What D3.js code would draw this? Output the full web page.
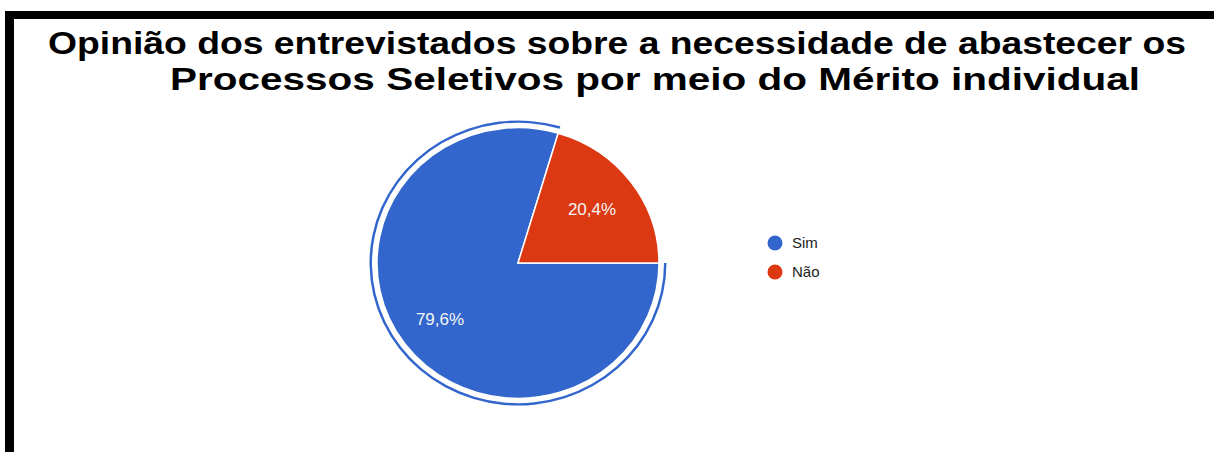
<!DOCTYPE html>
<html>
<head>
<meta charset="utf-8">
<script src="https://cdn.jsdelivr.net/npm/d3@7"></script>
<style>
  html, body { margin: 0; padding: 0; background: #fff; }
  svg { display: block; }
</style>
</head>
<body>
<svg id="display" width="1214" height="452"></svg>
<script>
'use strict';
//data
var TITLE_LINES = [
  'Opinião dos entrevistados sobre a necessidade de abastecer os',
  'Processos Seletivos por meio do Mérito individual'
];
var CATEGORIES = ['Sim', 'Não'];
var VALUES = [79.6, 20.4];
var LABELS = ['79,6%', '20,4%'];

//layout
var WIDTH = 1214;
var HEIGHT = 452;
var CENTER = { x: 518, y: 263 };
var RADIUS = 141;
var SQUASH = 0.96;
var COLORS = d3.scaleOrdinal().domain(CATEGORIES).range(['#3366cc', '#dc3912']);

var svg = d3.select('#display');

// frame bars
svg.append('rect')
  .attr('x', 5).attr('y', 11)
  .attr('width', WIDTH - 5).attr('height', 8)
  .attr('fill', '#000');
svg.append('rect')
  .attr('x', 5).attr('y', 11)
  .attr('width', 9).attr('height', HEIGHT - 11)
  .attr('fill', '#000');

// title, each line stretched to the span it has in the picture
var titleSpan = [[48, 1186], [170, 1140]];
svg.selectAll('text.title')
  .data(TITLE_LINES)
  .enter()
  .append('text')
  .attr('class', 'title')
  .attr('x', function(d, i) { return titleSpan[i][0]; })
  .attr('y', function(d, i) { return 54 + i * 35.5; })
  .attr('textLength', function(d, i) { return titleSpan[i][1] - titleSpan[i][0]; })
  .attr('lengthAdjust', 'spacingAndGlyphs')
  .attr('font-family', '"Liberation Sans", Arial, sans-serif')
  .attr('font-weight', 'bold')
  .attr('font-size', 32)
  .attr('fill', '#000')
  .text(function(d) { return d; });

// pie
var data = CATEGORIES.map(function(c, i) {
  return { name: c, value: VALUES[i], label: LABELS[i] };
});

var pie = d3.pie()
  .sort(null)
  .value(function(d) { return d.value; })
  .startAngle(Math.PI / 2)
  .endAngle(Math.PI / 2 + 2 * Math.PI);

var arcs = pie(data);
var arc = d3.arc().innerRadius(0).outerRadius(RADIUS);
var ring = d3.arc().innerRadius(RADIUS + 5).outerRadius(RADIUS + 7.5);

var chart = svg.append('g')
  .attr('transform', 'translate(' + CENTER.x + ',' + CENTER.y + ') scale(1,' + SQUASH + ')');

chart.selectAll('path.slice')
  .data(arcs)
  .enter()
  .append('path')
  .attr('class', 'slice')
  .attr('d', arc)
  .attr('fill', function(d) { return COLORS(d.data.name); })
  .attr('stroke', '#fff')
  .attr('stroke-width', 1.5);

// highlight ring round the largest slice
chart.append('path')
  .attr('d', ring(arcs[0]))
  .attr('fill', COLORS(CATEGORIES[0]));

// slice labels
var labelPos = [
  [-78, 62],
  [74, -48]
];
svg.selectAll('text.pct')
  .data(arcs)
  .enter()
  .append('text')
  .attr('class', 'pct')
  .attr('x', function(d, i) { return CENTER.x + labelPos[i][0]; })
  .attr('y', function(d, i) { return CENTER.y + labelPos[i][1]; })
  .attr('text-anchor', 'middle')
  .attr('font-family', '"Liberation Sans", Arial, sans-serif')
  .attr('font-size', 17)
  .attr('fill', '#f4f4f4')
  .text(function(d) { return d.data.label; });

// legend
var legend = svg.append('g')
  .attr('transform', 'translate(775,243)');

var items = legend.selectAll('g.item')
  .data(CATEGORIES)
  .enter()
  .append('g')
  .attr('class', 'item')
  .attr('transform', function(d, i) { return 'translate(0,' + i * 29 + ')'; });

items.append('circle')
  .attr('r', 7.5)
  .attr('fill', function(d) { return COLORS(d); });

items.append('text')
  .attr('x', 17)
  .attr('y', 5)
  .attr('font-family', '"Liberation Sans", Arial, sans-serif')
  .attr('font-size', 15)
  .attr('fill', '#222')
  .text(function(d) { return d; });
</script>
</body>
</html>
